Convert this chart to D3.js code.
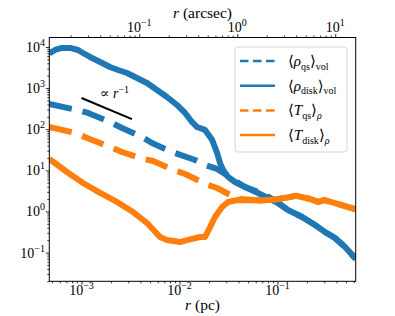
<!DOCTYPE html>
<html>
<head>
<meta charset="utf-8">
<script src="https://cdn.jsdelivr.net/npm/d3@7"></script>
<style>
body { margin: 0; background: #fff; }
text { font-family: "Liberation Serif", "DejaVu Serif", serif; fill: #000; }
</style>
</head>
<body>
<div id="chart"></div>
<script>
// radius in pc
var rhoDiskR = [4.7e-4, 5.37e-4, 6.32e-4, 7.64e-4, 9.2e-4, 1.035e-3, 1.22e-3, 1.55e-3, 1.95e-3, 2.36e-3,
	2.91e-3, 3.68e-3, 4.66e-3, 5.89e-3, 7.45e-3, 9.42e-3, 1.14e-2, 1.34e-2, 1.51e-2, 1.82e-2,
	2.15e-2, 2.42e-2, 2.59e-2, 2.78e-2, 3.13e-2, 3.68e-2, 4.66e-2, 6.32e-2, 8.0e-2, 0.101,
	0.128, 0.178, 0.242, 0.305, 0.386, 0.489, 0.63];
var rhoDiskV = [7000, 8450, 9460, 9460, 8450, 7140, 5710, 4320, 3260, 2750,
	2330, 1760, 1330, 900, 607, 388, 248, 150, 113, 96,
	55, 26.4, 15.1, 10.2, 6.9, 5.19, 3.93, 2.81, 2.12, 1.60,
	1.08, 0.731, 0.467, 0.315, 0.225, 0.136, 0.07];

var rhoQsR = [4.69e-4, 8.99e-4, 1.165e-3, 1.95e-3, 2.59e-3, 4.14e-3, 5.24e-3, 8.38e-3, 1.44e-2, 1.82e-2,
	2.42e-2, 3.13e-2, 3.68e-2, 4.66e-2, 6.32e-2, 8.0e-2, 0.101, 0.128, 0.178, 0.242,
	0.305, 0.386, 0.489, 0.63];
var rhoQsV = [410, 293, 248, 150, 107, 64.6, 46.1, 27.9, 17.8, 13.5,
	10.8, 7.26, 5.49, 3.93, 3.0, 2.3, 1.62, 1.08, 0.731, 0.467,
	0.315, 0.225, 0.136, 0.07];

var tQsR = [4.69e-4, 8.59e-4, 1.14e-3, 1.95e-3, 2.59e-3, 3.95e-3, 5.37e-3, 8.59e-3, 1.14e-2, 1.95e-2,
	2.42e-2, 3.95e-2, 6.95e-2, 9.42e-2, 0.128, 0.155, 0.215, 0.26, 0.30, 0.386,
	0.489, 0.63];
var tQsV = [113, 80.9, 61.1, 36.9, 27.9, 19.9, 16.8, 10.2, 8.13, 4.39,
	3.71, 2.0, 1.85, 1.95, 2.2, 2.4, 2.0, 1.7, 1.89, 1.60,
	1.34, 1.12];

var tDiskR = [4.69e-4, 7.11e-4, 1.035e-3, 1.55e-3, 2.30e-3, 3.36e-3, 4.66e-3, 6.32e-3, 7.45e-3, 1.01e-2,
	1.19e-2, 1.62e-2, 1.82e-2, 2.05e-2, 2.30e-2, 2.72e-2, 3.13e-2, 3.95e-2, 6.95e-2, 9.42e-2,
	0.128, 0.155, 0.215, 0.26, 0.30, 0.386, 0.489, 0.63];
var tDiskV = [18.8, 9.10, 4.91, 2.81, 1.70, 0.966, 0.522, 0.238, 0.201, 0.180,
	0.201, 0.238, 0.238, 0.417, 0.731, 1.28, 1.70, 1.89, 1.85, 1.95,
	2.2, 2.4, 2.0, 1.7, 1.89, 1.60, 1.34, 1.12];

// r^-1 guide line
var guideR = [1.0e-3, 3.27e-3];
var guideV = [575, 176];

var xMajor = [1e-3, 1e-2, 1e-1];
var xTopMajor = [0.1, 1, 10];
var yMajor = [0.1, 1, 10, 100, 1000, 10000];
var pcPerArcsec = 0.0388;

var W = 395, H = 316;
var pL = 49.3, pR = 355.7, pT = 37.5, pB = 281.3;
var blue = "#1f77b4", orange = "#ff7f0e";

var svg = d3.select("#chart").append("svg").attr("width", W).attr("height", H);

var x = d3.scaleLog().domain([4.69e-4, 0.628]).range([pL, pR]);
var xTop = d3.scaleLog().domain([4.69e-4 / pcPerArcsec, 0.628 / pcPerArcsec]).range([pL, pR]);
var y = d3.scaleLog().domain([0.01995, 17000]).range([pB, pT]);

function minors(scale) {
	var d = scale.domain(), out = [];
	for (var e = -4; e <= 4; e++) {
		for (var k = 2; k <= 9; k++) {
			var v = k * Math.pow(10, e);
			if (v >= d[0] && v <= d[1]) out.push(v);
		}
	}
	return out;
}

// ticks
function tickAxis(axis, tx, ty) {
	var g = svg.append("g").attr("transform", "translate(" + tx + "," + ty + ")").call(axis);
	g.select(".domain").remove();
	g.selectAll("line").attr("stroke", "#000").attr("stroke-width", 0.8);
	return g;
}
tickAxis(d3.axisBottom(x).tickValues(xMajor).tickSize(3.5).tickFormat(""), 0, pB);
tickAxis(d3.axisBottom(x).tickValues(minors(x)).tickSize(2).tickFormat(""), 0, pB);
tickAxis(d3.axisTop(xTop).tickValues(xTopMajor).tickSize(3.5).tickFormat(""), 0, pT);
tickAxis(d3.axisTop(xTop).tickValues(minors(xTop)).tickSize(2).tickFormat(""), 0, pT);
tickAxis(d3.axisLeft(y).tickValues(yMajor).tickSize(3.5).tickFormat(""), pL, 0);
tickAxis(d3.axisLeft(y).tickValues(minors(y)).tickSize(2).tickFormat(""), pL, 0);

function expLabel(sel, v) {
	var e = Math.round(Math.log10(v));
	sel.append("tspan").text("10");
	sel.append("tspan").attr("dy", -6).style("font-size", "10px").text(String(e).replace("-", "\u2212"));
}

xMajor.forEach(function (v) {
	var t = svg.append("text").attr("x", x(v)).attr("y", 295).attr("text-anchor", "middle").style("font-size", "14px");
	expLabel(t, v);
});
xTopMajor.forEach(function (v) {
	var t = svg.append("text").attr("x", xTop(v)).attr("y", 32).attr("text-anchor", "middle").style("font-size", "14px");
	expLabel(t, v);
});
yMajor.forEach(function (v) {
	var t = svg.append("text").attr("x", 45).attr("y", y(v) + 5).attr("text-anchor", "end").style("font-size", "14px");
	expLabel(t, v);
});

// axis titles
var tb = svg.append("text").attr("x", (pL + pR) / 2).attr("y", 310).attr("text-anchor", "middle").style("font-size", "15.5px");
tb.append("tspan").style("font-style", "italic").text("r");
tb.append("tspan").text(" (pc)");
var tt = svg.append("text").attr("x", (pL + pR) / 2).attr("y", 18).attr("text-anchor", "middle").style("font-size", "15.5px");
tt.append("tspan").style("font-style", "italic").text("r");
tt.append("tspan").text(" (arcsec)");

// lines
svg.append("clipPath").attr("id", "clip").append("rect")
	.attr("x", pL).attr("y", pT).attr("width", pR - pL).attr("height", pB - pT);
var plot = svg.append("g").attr("clip-path", "url(#clip)");

var line = d3.line().x(function (d) { return x(d[0]); }).y(function (d) { return y(d[1]); });

var series = [
	{ r: rhoQsR, v: rhoQsV, color: blue, dash: "23,11" },
	{ r: rhoDiskR, v: rhoDiskV, color: blue, dash: null },
	{ r: tQsR, v: tQsV, color: orange, dash: "23,11" },
	{ r: tDiskR, v: tDiskV, color: orange, dash: null },
];

series.forEach(function (s) {
	plot.append("path")
		.datum(d3.zip(s.r, s.v))
		.attr("d", line)
		.attr("fill", "none")
		.attr("stroke", s.color)
		.attr("stroke-width", 6)
		.attr("stroke-linejoin", "round")
		.attr("stroke-dasharray", s.dash);
});

plot.append("path")
	.datum(d3.zip(guideR, guideV))
	.attr("d", line)
	.attr("fill", "none")
	.attr("stroke", "#000")
	.attr("stroke-width", 2);

var gl = svg.append("text").attr("x", 100).attr("y", 98).style("font-size", "14px");
gl.append("tspan").text("\u221D ");
gl.append("tspan").style("font-style", "italic").text("r");
gl.append("tspan").attr("dy", -5).style("font-size", "10px").text("\u22121");

// frame
svg.append("rect")
	.attr("x", pL).attr("y", pT).attr("width", pR - pL).attr("height", pB - pT)
	.attr("fill", "none").attr("stroke", "#000").attr("stroke-width", 1);

// legend
var legend = svg.append("g");
legend.append("rect")
	.attr("x", 235).attr("y", 47).attr("width", 112).attr("height", 105)
	.attr("rx", 3).attr("fill", "#fff").attr("fill-opacity", 0.8)
	.attr("stroke", "#d6d6d6").attr("stroke-width", 1);

var legendRows = [
	{ sym: "\u03C1", sub: "qs", outer: "vol", outerItalic: false },
	{ sym: "\u03C1", sub: "disk", outer: "vol", outerItalic: false },
	{ sym: "T", sub: "qs", outer: "\u03C1", outerItalic: true },
	{ sym: "T", sub: "disk", outer: "\u03C1", outerItalic: true },
];

legendRows.forEach(function (row, i) {
	var s = series[i];
	var ly = 61 + i * 24.7;
	legend.append("line")
		.attr("x1", 240).attr("x2", 275).attr("y1", ly).attr("y2", ly)
		.attr("stroke", s.color).attr("stroke-width", 2.5)
		.attr("stroke-dasharray", s.dash ? "8.5,4.5" : null);
	var t = legend.append("text").attr("x", 288).attr("y", ly + 5).style("font-size", "15px");
	t.append("tspan").text("\u27E8");
	t.append("tspan").style("font-style", "italic").text(row.sym);
	t.append("tspan").attr("dy", 3.5).style("font-size", "10px").text(row.sub);
	t.append("tspan").attr("dy", -3.5).text("\u27E9");
	t.append("tspan").attr("dy", 3.5).style("font-size", "10px")
		.style("font-style", row.outerItalic ? "italic" : "normal").text(row.outer);
});
</script>
</body>
</html>
